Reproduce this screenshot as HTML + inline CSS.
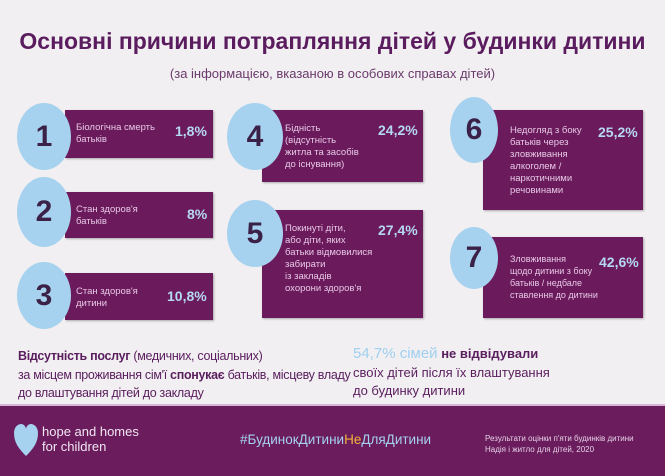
<!DOCTYPE html>
<html><head><meta charset="utf-8"><style>
*{margin:0;padding:0;box-sizing:border-box}
body{width:665px;height:476px;background:#f1eff1;position:relative;overflow:hidden;font-family:"Liberation Sans","DejaVu Sans",sans-serif;color:#5a1d5e}
.abs{position:absolute}
.box{position:absolute;background:#6b1a5c;box-shadow:1px 1px 2px rgba(0,0,0,.3)}
.circ{position:absolute;background:#a6d2ef;border-radius:50%;display:flex;align-items:center;justify-content:center;font-size:30px;color:#3b2147;font-weight:bold}
.lbl{position:absolute;color:#e7c9e6;font-size:9.5px;line-height:12px}
.pct{position:absolute;color:#b5d8f3;font-size:14px;font-weight:bold}
</style></head><body>
<div class="abs" style="left:0;width:665px;top:28px;text-align:center;font-size:23px;font-weight:bold;color:#5a1c5e">Основні причини потрапляння дітей у будинки дитини</div>
<div class="abs" style="left:0;width:665px;top:66px;text-align:center;font-size:13px;color:#6a3a6c">(за інформацією, вказаною в особових справах дітей)</div>

<div class="box" style="left:65px;top:110px;width:148px;height:48px"></div>
<div class="circ" style="left:17px;top:103px;width:54px;height:67px">1</div>
<div class="lbl" style="left:76px;top:122px">Біологічна смерть<br>батьків</div>
<div class="pct" style="left:175px;top:123px">1,8%</div>

<div class="box" style="left:65px;top:192px;width:148px;height:46px"></div>
<div class="circ" style="left:17px;top:177px;width:54px;height:70px">2</div>
<div class="lbl" style="left:76px;top:204px">Стан здоров'я<br>батьків</div>
<div class="pct" style="left:187px;top:206px">8%</div>

<div class="box" style="left:65px;top:273px;width:148px;height:47px"></div>
<div class="circ" style="left:17px;top:262px;width:54px;height:67px">3</div>
<div class="lbl" style="left:76px;top:286px">Стан здоров'я<br>дитини</div>
<div class="pct" style="left:167px;top:288px">10,8%</div>

<div class="box" style="left:262px;top:110px;width:161px;height:72px"></div>
<div class="circ" style="left:227px;top:103px;width:56px;height:67px">4</div>
<div class="lbl" style="left:285px;top:123px">Бідність<br>(відсутність<br>житла та засобів<br>до існування)</div>
<div class="pct" style="left:378px;top:122px">24,2%</div>

<div class="box" style="left:262px;top:210px;width:161px;height:108px"></div>
<div class="circ" style="left:227px;top:200px;width:56px;height:67px">5</div>
<div class="lbl" style="left:285px;top:223px">Покинуті діти,<br>або діти, яких<br>батьки відмовилися<br>забирати<br>із закладів<br>охорони здоров'я</div>
<div class="pct" style="left:378px;top:222px">27,4%</div>

<div class="box" style="left:483px;top:110px;width:160px;height:100px"></div>
<div class="circ" style="left:450px;top:97px;width:48px;height:66px">6</div>
<div class="lbl" style="left:510px;top:125px">Недогляд з боку<br>батьків через<br>зловживання<br>алкоголем /<br>наркотичними<br>речовинами</div>
<div class="pct" style="left:598px;top:124px">25,2%</div>

<div class="box" style="left:483px;top:237px;width:160px;height:81px"></div>
<div class="circ" style="left:450px;top:227px;width:48px;height:62px">7</div>
<div class="lbl" style="left:510px;top:253px;font-size:9px">Зловживання<br>щодо дитини з боку<br>батьків / недбале<br>ставлення до дитини</div>
<div class="pct" style="left:599px;top:254px">42,6%</div>

<div class="abs" style="left:18px;top:347px;font-size:12.5px;letter-spacing:-0.3px;line-height:18.5px;color:#5a1d5e"><b>Відсутність послуг</b> (медичних, соціальних)<br>за місцем проживання сім'ї <b>спонукає</b> батьків, місцеву владу<br>до влаштування дітей до закладу</div>
<div class="abs" style="left:353px;top:345px;font-size:13px;line-height:18.5px;color:#5a1d5e"><span style="color:#9fd0f0;font-size:15px">54,7% сімей</span> <b>не відвідували</b><br>своїх дітей після їх влаштування<br>до будинку дитини</div>

<div class="abs" style="left:0;top:404px;width:665px;height:72px;background:#6a1c5d;border-top:2px solid #d9b6d9"></div>
<svg class="abs" style="left:14px;top:424px" width="24" height="32" viewBox="0 0 24 32"><path d="M12 32 C4 24 0 18 0 9 C0 3 4 0 7 0 C10 0 12 3 12 5 C12 3 14 0 17 0 C20 0 24 3 24 9 C24 18 20 24 12 32Z" fill="#a6d2ef"/></svg>
<div class="abs" style="left:42px;top:424px;font-size:13px;line-height:15px;color:#f1e6f1">hope and homes<br>for children</div>
<div class="abs" style="left:240px;top:432px;font-size:13.5px;color:#a6d2ef">#БудинокДитини<span style="color:#f2b23a">Не</span>ДляДитини</div>
<div class="abs" style="left:485px;top:433px;font-size:8px;line-height:11px;color:#e7d2e7">Результати оцінки п'яти будинків дитини<br>Надія і житло для дітей, 2020</div>
</body></html>
